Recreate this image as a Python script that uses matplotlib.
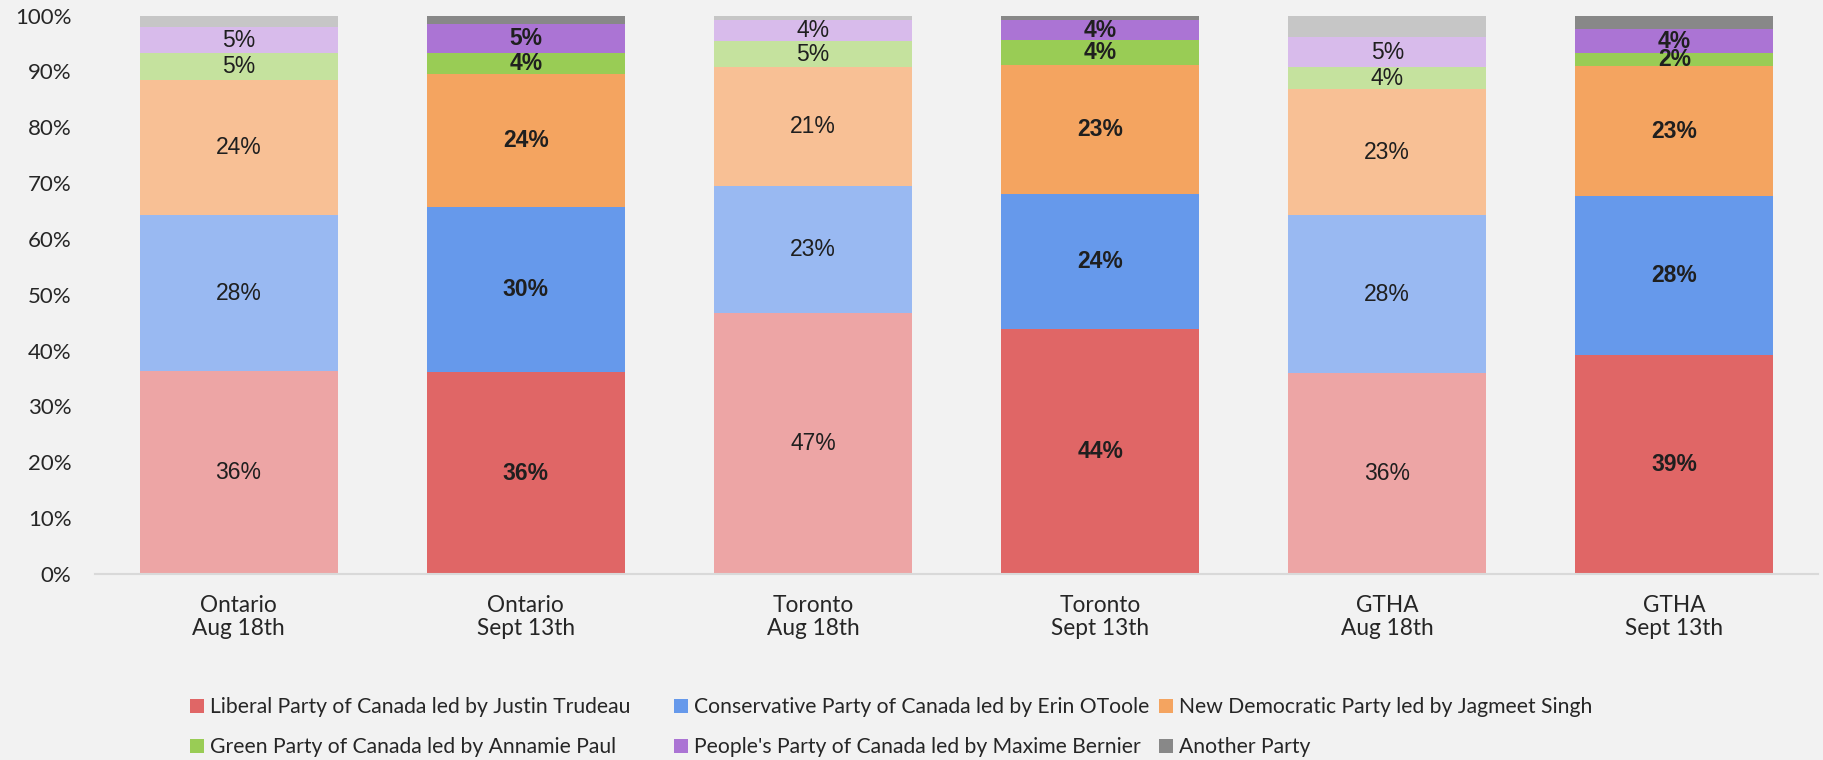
import numpy as np
import matplotlib
matplotlib.use('Agg')
import matplotlib.pyplot as plt
from matplotlib.patches import Patch

# dane (procenty)
kategorie = ['Ontario\nAug 18th', 'Ontario\nSept 13th', 'Toronto\nAug 18th',
             'Toronto\nSept 13th', 'GTHA\nAug 18th', 'GTHA\nSept 13th']
sierpien = [True, False, True, False, True, False]

liberal = [36.3, 36.1, 46.7, 43.8, 35.9, 39.2]
conservative = [28.0, 29.7, 22.8, 24.2, 28.3, 28.4]
ndp = [24.2, 23.8, 21.3, 23.2, 22.6, 23.4]
green = [4.8, 3.6, 4.6, 4.4, 4.0, 2.2]
ppc = [4.6, 5.2, 3.8, 3.6, 5.3, 4.3]
another = [2.1, 1.6, 0.8, 0.8, 3.9, 2.5]

partie = ['Liberal Party of Canada led by Justin Trudeau',
          'Conservative Party of Canada led by Erin OToole',
          'New Democratic Party led by Jagmeet Singh',
          'Green Party of Canada led by Annamie Paul',
          "People's Party of Canada led by Maxime Bernier",
          'Another Party']
kolory = ['#E06666', '#6699EB', '#F4A460', '#99CC55', '#AB74D4', '#888888']
kolory_jasne = ['#EDA5A5', '#99B9F2', '#F8C095', '#C5E29E', '#D8BBEB', '#C6C6C6']
serie = [liberal, conservative, ndp, green, ppc, another]
etykiety = [True, True, True, True, True, False]

tlo = '#F2F2F2'
plt.rcParams['font.family'] = ['Lato', 'DejaVu Sans']

fig = plt.figure(figsize=(18.23, 7.6), dpi=100, facecolor=tlo)
ax = fig.add_axes([95 / 1823, 1 - 574 / 760, (1818 - 95) / 1823, (574 - 15.5) / 760])
ax.set_facecolor(tlo)

x = np.arange(len(kategorie))
szer = 0.69
dol = np.zeros(len(kategorie))

for wart, kol, kol_j, etk in zip(serie, kolory, kolory_jasne, etykiety):
    wart = np.array(wart)
    kol_slupkow = [kol_j if s else kol for s in sierpien]
    ax.bar(x, wart, szer, bottom=dol, color=kol_slupkow, linewidth=0)
    if etk:
        for i in range(len(x)):
            ax.text(x[i], dol[i] + wart[i] / 2, f'{wart[i]:.0f}%',
                    ha='center', va='center', fontsize=16.5,
                    family=['Liberation Sans', 'DejaVu Sans'],
                    fontweight='normal' if sierpien[i] else 'bold',
                    color='#1f1f1f')
    dol += wart

ax.set_xlim(-0.5, len(x) - 0.5)
ax.set_ylim(0, 100)
ax.set_yticks(np.arange(0, 101, 10))
ax.set_yticklabels([f'{v}%' for v in range(0, 101, 10)])
ax.set_xticks(x)
ax.set_xticklabels(kategorie, linespacing=1.15)
ax.tick_params(axis='y', length=0, pad=17, labelsize=16, labelcolor='#262626')
ax.tick_params(axis='x', length=0, pad=15, labelsize=16.3, labelcolor='#262626')

for s in ['top', 'right', 'left']:
    ax.spines[s].set_visible(False)
ax.spines['bottom'].set_color('#D9D9D9')
ax.spines['bottom'].set_linewidth(1.5)

# legenda - trzy kolumny o rownej szerokosci
uchwyty = [Patch(facecolor=k, edgecolor='none') for k in kolory]
kolumny_x = [190, 674, 1159]
for j, kx in enumerate(kolumny_x):
    idx = [j, j + 3]
    leg = fig.legend([uchwyty[i] for i in idx], [partie[i] for i in idx],
                     loc='center left', bbox_to_anchor=(kx / 1823, 1 - 727 / 760),
                     frameon=False, fontsize=15.2, handlelength=0.65,
                     handleheight=0.65, handletextpad=0.3, labelspacing=0.95,
                     borderpad=0, borderaxespad=0)
    for t in leg.get_texts():
        t.set_color('#262626')

fig.savefig('out.png', dpi=100, facecolor=tlo)
